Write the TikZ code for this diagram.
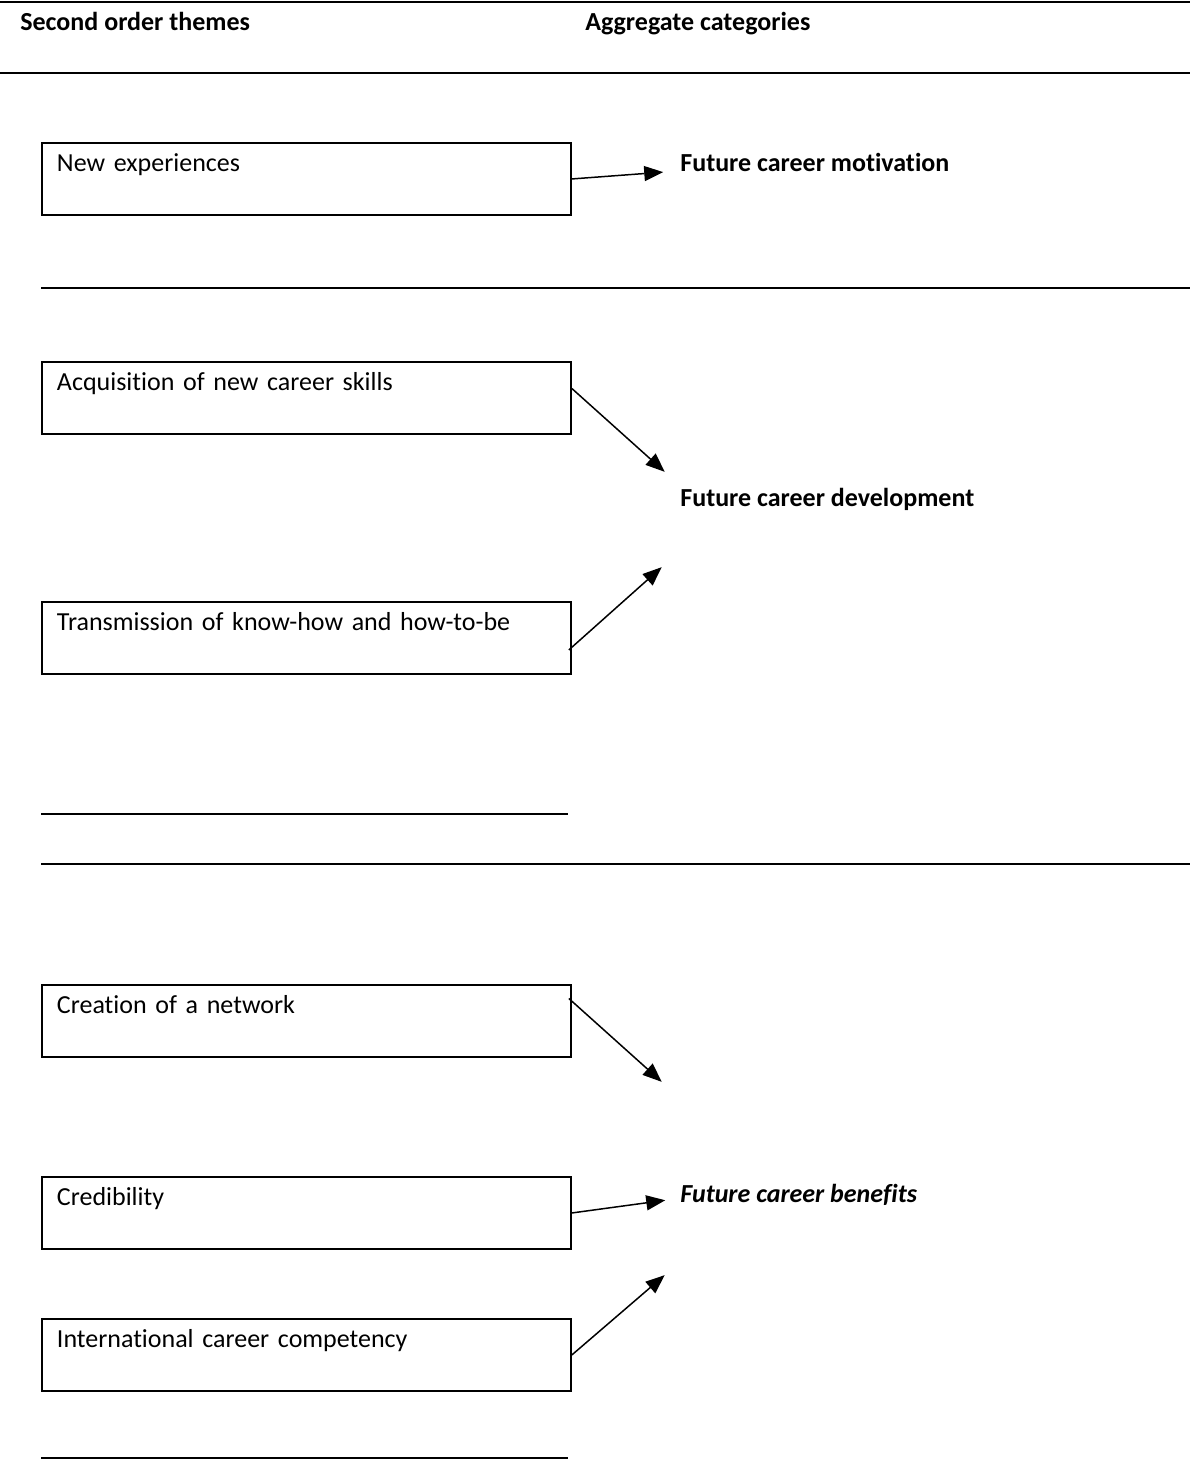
\documentclass[tikz,border=0pt]{standalone}
\usepackage{fontspec}
\setmainfont{Carlito}[Ligatures=NoCommon]
\usepackage{tikz}
\usetikzlibrary{arrows.meta,positioning}

\newcommand\diagsize{\fontsize{14.8}{17}\selectfont}

\tikzset{
  theme/.style={draw, line width=1.1pt, anchor=north west, inner xsep=0.3cm, inner ysep=0.18cm,
    text width=9.98cm, align=left, text height=0.4cm, text depth=0.68cm},
  aggr/.style={anchor=base west, inner sep=0pt, font=\diagsize\bfseries},
  rule/.style={line width=1.4pt},
}

\begin{document}
\begin{tikzpicture}[x=0.02cm,y=-0.02cm,font=\diagsize,
    >={Triangle[length=0.38cm,width=0.3cm]},shorten >=1pt]
           \useasboundingbox (0,0) rectangle (1192,1466);
           % header
           \draw[rule] (0,2) -- (1192,2);
           \draw[rule] (0,73) -- (1192,73);
           \node[aggr] (hdtheme) at (20,31) {Second order themes};
           \node[aggr] (hdaggr)  at (585,31) {Aggregate categories};
           \draw[rule] (41,288) -- (1192,288);
           \draw[rule] (41,814) -- (570,814);
           \draw[rule] (41,864) -- (1192,864);
           \draw[rule] (41,1458) -- (570,1458);

           % themes
           \node[theme] (newexp) at (41,142)  {New experiences};
           \node[theme] (acq)    at (41,361)  {Acquisition of new career skills};
           \node[theme] (trans)  at (41,601)  {Transmission of know-how and how-to-be};
           \node[theme] (netw)   at (41,984)  {Creation of a network};
           \node[theme] (cred)   at (41,1176) {Credibility};
           \node[theme] (intl)   at (41,1318) {International career competency};

           % categories
           \node[aggr] (motiv) at (680,172)  {Future career motivation};
           \node[aggr] (devel) at (680,506)  {Future career development};
           \node[aggr,font=\diagsize\bfseries\itshape] (benef) at (680,1202) {Future career benefits};

           \coordinate (m1) at (665,172);
           \coordinate (d1) at (666,473);
           \coordinate (d2) at (663,566);
           \coordinate (b1) at (663,1083);
           \coordinate (b2) at (667,1200);
           \coordinate (b3) at (666,1274);

            \path[->,line width=0.85pt]
            (newexp.east) edge (m1)
            ([yshift=0.19cm]acq.east) edge (d1)
            ([xshift=-0.06cm,yshift=-0.24cm]trans.east) edge (d2)
            ([xshift=-0.06cm,yshift=0.45cm]netw.east) edge (b1)
            (cred.east) edge (b2)
            (intl.east) edge (b3);
    \end{tikzpicture}
\end{document}
